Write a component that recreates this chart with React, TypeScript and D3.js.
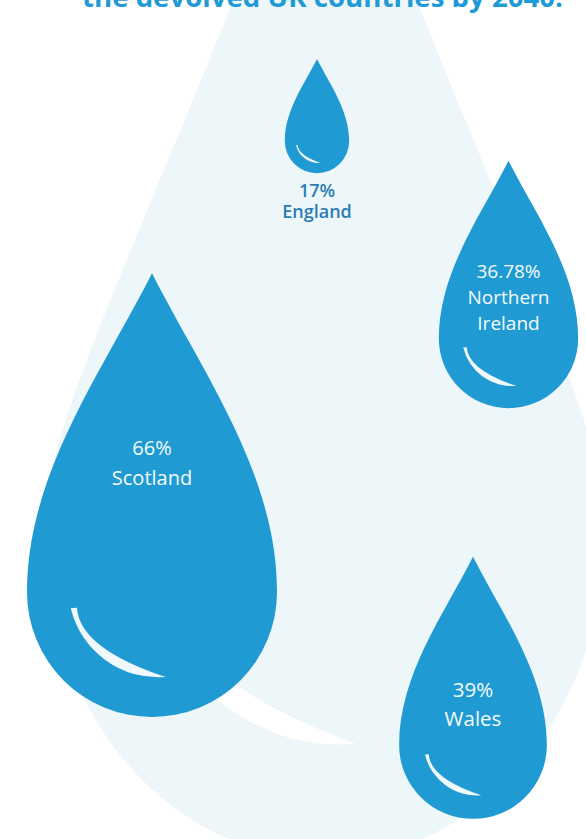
import React from "react";
import * as d3 from "d3";

// ---- data ----
const countries = ["England", "Northern Ireland", "Scotland", "Wales"];
const values = [17, 36.78, 66, 39];
const valueLabels = ["17%", "36.78%", "66%", "39%"];
const nameLines = [["England"], ["Northern", "Ireland"], ["Scotland"], ["Wales"]];
const titleText = "the devolved UK countries by 2040.";

// ---- layout (positions of each drop's round part, label baselines, label sizes) ----
const centerX = [317, 508.5, 152, 473];
const centerY = [141, 338.5, 592, 745];
const labelBaselines = [
  [197, 218],
  [278, 304, 330],
  [455, 485],
  [697, 726],
];
const labelInside = [false, true, true, true];
const labelSize = [18, 19, 20, 20.5];

const W = 586;
const H = 839;
const BLUE = "#209AD2";
const PALE = "#EDF6F9";
const SHINE = "#EFF8FB";

const rScale = d3.scaleLinear().domain([0, 66]).range([0, 125]);

function dropPath(cx: number, cy: number, r: number, k = 2.55) {
  const L = k * r;
  const p = d3.path();
  p.moveTo(cx, cy - L);
  p.bezierCurveTo(cx + 0.4 * r, cy - 0.69 * L, cx + r, cy - 0.372 * L, cx + r, cy);
  p.arc(cx, cy, r, 0, Math.PI, false);
  p.bezierCurveTo(cx - r, cy - 0.372 * L, cx - 0.4 * r, cy - 0.69 * L, cx, cy - L);
  p.closePath();
  return p.toString();
}

function shinePath(cx: number, cy: number, rx: number, ry: number) {
  const sx = cx - 0.65 * rx, sy = cy + 0.13 * ry;
  const s2x = cx - 0.6 * rx, s2y = cy + 0.125 * ry;
  const ex = cx + 0.11 * rx, ey = cy + 0.68 * ry;
  const arx = 0.72 * rx, ary = 0.72 * ry;
  const qx = cx - 0.58 * rx, qy = cy + 0.45 * ry;
  return `M${sx},${sy}A${arx},${ary},0,0,0,${ex},${ey}Q${qx},${qy},${s2x},${s2y}Z`;
}

// big pale drop behind everything: slender tapered top, elliptical bottom
function bgDropPath(cx: number, cy: number, rx: number, ry: number, tipY: number) {
  const p = d3.path();
  p.moveTo(cx, tipY);
  p.bezierCurveTo(cx + 190, cy - 267, cx + rx, cy - 120, cx + rx, cy);
  const right = p.toString();
  const left = `A${rx},${ry},0,0,1,${cx - rx},${cy}C${cx - rx},${cy - 120},${cx - 190},${cy - 267},${cx},${tipY}Z`;
  return right + left;
}

export default function App() {
  const font = "'Open Sans', 'DejaVu Sans', sans-serif";
  return (
    <svg
      width={W}
      height={H}
      viewBox={`0 0 ${W} ${H}`}
      style={{ position: "absolute", left: 0, top: 0, background: "#ffffff" }}
    >
      {/* background drop */}
      <path d={bgDropPath(325, 533, 280, 326, -234)} fill={PALE} />
      <path d={shinePath(325, 533, 280, 310)} fill="#ffffff" />

      {/* title (cut off at the top) */}
      <text
        x={82}
        y={7}
        fontFamily={font}
        fontWeight={700}
        fontSize={27}
        fill="#1E9AD6"
        textLength={481}
        lengthAdjust="spacingAndGlyphs"
      >
        {titleText}
      </text>

      {countries.map((c, i) => {
        const r = rScale(values[i]);
        const cx = centerX[i];
        const cy = centerY[i];
        const inside = labelInside[i];
        const lines = [valueLabels[i], ...nameLines[i]];
        return (
          <g key={c}>
            <path d={dropPath(cx, cy, r)} fill={BLUE} />
            <path d={shinePath(cx, cy, r, r)} fill={SHINE} />
            {lines.map((t, j) => (
              <text
                key={j}
                x={cx}
                y={labelBaselines[i][j]}
                textAnchor="middle"
                fontFamily={font}
                fontWeight={inside ? 500 : 600}
                fontSize={labelSize[i]}
                fill={inside ? "#F4FAFC" : "#2A7DB3"}
              >
                {t}
              </text>
            ))}
          </g>
        );
      })}
    </svg>
  );
}
